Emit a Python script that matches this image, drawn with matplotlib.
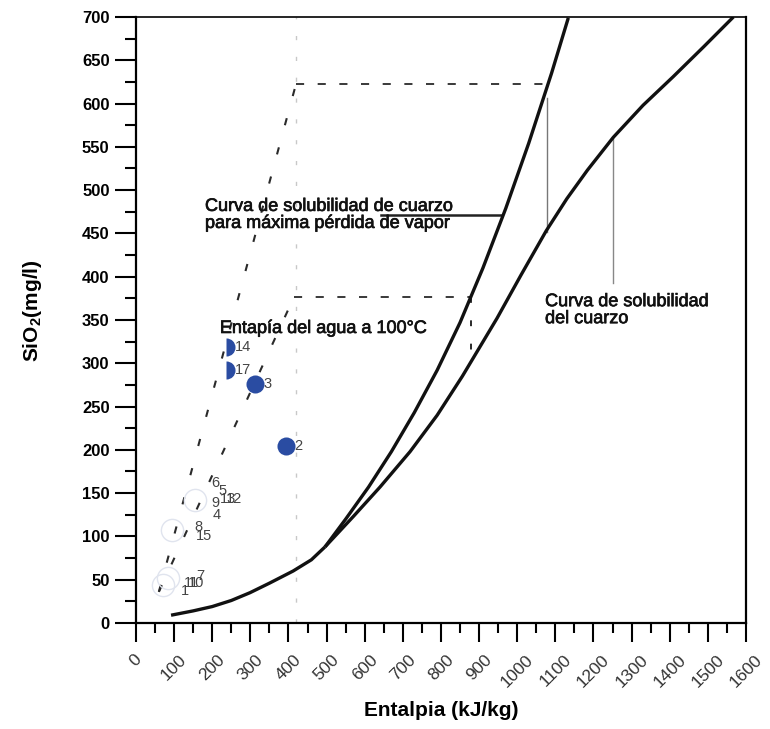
import matplotlib

matplotlib.use("Agg")
import matplotlib.patheffects as pe
import matplotlib.pyplot as plt
from matplotlib.ticker import MultipleLocator

plt.rcParams["font.family"] = ["Liberation Sans", "DejaVu Sans"]
plt.rcParams["mathtext.fontset"] = "custom"
plt.rcParams["mathtext.rm"] = "Liberation Sans:bold"
plt.rcParams["mathtext.bf"] = "Liberation Sans:bold"

# Solubility curves (enthalpy kJ/kg, SiO2 mg/l)
COMMON_H = [92, 150, 200, 250, 299, 350, 412, 460, 496]
COMMON_S = [9, 14, 19, 26, 35, 46, 60, 73, 88]
VAPOR_H = [496, 550, 610, 670, 730, 790, 850, 910, 970, 1030, 1090, 1134]
VAPOR_S = [88, 120, 157, 198, 243, 292, 347, 410, 479, 554, 635, 699]
QUARTZ_H = [496, 570, 640, 719, 790, 856, 947, 1010, 1076, 1130, 1184, 1252,
            1330, 1409, 1490, 1567]
QUARTZ_S = [88, 123, 157, 198, 240, 285, 352, 402, 453, 490, 523, 561,
            598, 631, 666, 700]

# Samples drawn in blue
BLUE_IDS = ["14", "17", "3", "2"]
BLUE_H = [237, 237, 312, 394]
BLUE_S = [319, 292, 276, 204]
BLUE_HALF = [True, True, False, False]

# Faint (almost invisible) sample circles
FAINT_H = [155, 94, 71, 84]
FAINT_S = [142, 107, 44, 52]

# Labels of faint samples (text position)
FAINT_IDS = ["6", "5", "13", "12", "9", "4", "8", "15", "7", "11", "10", "1"]
FAINT_LH = [197, 216, 221, 236, 197, 202, 152, 157, 157, 126, 136, 118]
FAINT_LS = [162, 152, 143, 143, 139, 125, 111, 100, 54, 46, 46, 37]

# Mixing / steam-loss construction lines
H_100C = 419
LINE_A_H = [60, 420, 1072]
LINE_A_S = [36, 623, 623]
LINE_B_H = [60, 415, 879]
LINE_B_S = [36, 377, 377]
DROP_B_S = [377, 315]
LINK1_H = 1079
LINK1_S = [452, 606]
LINK2_H = 1252
LINK2_S = [561, 393]
POINTER_H = [643, 958]
POINTER_S = 471

fig = plt.figure(figsize=(7.7, 7.29), dpi=100)
ax = fig.add_axes([0.1766, 0.1454, 0.7922, 0.8313])

ax.axvline(H_100C, color="#c8c8c8", lw=1, dashes=(3, 12))
ax.plot(LINE_A_H[:2], LINE_A_S[:2], color="#2a2a2a", lw=1.5, dashes=(3.5, 11))
ax.plot(LINE_A_H[1:], LINE_A_S[1:], color="#2a2a2a", lw=1.3, dashes=(4.5, 7.5))
ax.plot(LINE_B_H[:2], LINE_B_S[:2], color="#2a2a2a", lw=1.5, dashes=(3.5, 11))
ax.plot(LINE_B_H[1:], LINE_B_S[1:], color="#2a2a2a", lw=1.3, dashes=(4.5, 7.5))
ax.plot([LINE_B_H[2]] * 2, DROP_B_S, color="#2a2a2a", lw=1.4, dashes=(3, 9))
ax.plot([LINK1_H] * 2, LINK1_S, color="#777777", lw=1)
ax.plot([LINK2_H] * 2, LINK2_S, color="#888888", lw=1)
ax.plot(POINTER_H, [POINTER_S] * 2, color="#222222", lw=1.8)

ax.plot(COMMON_H, COMMON_S, color="#111111", lw=2.4, solid_capstyle="butt")
ax.plot(VAPOR_H, VAPOR_S, color="#111111", lw=2.4, solid_capstyle="butt")
ax.plot(QUARTZ_H, QUARTZ_S, color="#111111", lw=2.4, solid_capstyle="butt")

ax.plot(FAINT_H, FAINT_S, "o", ms=16, mfc="none", mec="#e0e4ee", mew=1.0)

for sid, h, s, half in zip(BLUE_IDS, BLUE_H, BLUE_S, BLUE_HALF):
    ax.plot(h, s, "o", ms=13, color="#2a4ca2", mew=0,
            fillstyle="right" if half else "full", markerfacecoloralt="none")
    ax.annotate(sid, (h, s), xytext=(6, 0), textcoords="offset points",
                va="center", fontsize=10.5, color="#444444")

for sid, h, s in zip(FAINT_IDS, FAINT_LH, FAINT_LS):
    ax.text(h, s, sid, va="center", fontsize=10.5, color="#444444")

bold_ish = [pe.withStroke(linewidth=0.5, foreground="#111111")]
ax.text(181, 491, "Curva de solubilidad de cuarzo\npara máxima pérdida de vapor",
        fontsize=13, va="top", linespacing=1.0, color="#111111",
        path_effects=bold_ish)
ax.text(220, 335, "Entapía del agua a 100°C", fontsize=13, color="#111111",
        path_effects=bold_ish)
ax.text(1073, 381, "Curva de solubilidad\ndel cuarzo", fontsize=13,
        va="top", linespacing=1.0, color="#111111", path_effects=bold_ish)

ax.set_xlim(0, 1600)
ax.set_ylim(0, 700)
ax.xaxis.set_major_locator(MultipleLocator(100))
ax.xaxis.set_minor_locator(MultipleLocator(50))
ax.yaxis.set_major_locator(MultipleLocator(50))
ax.yaxis.set_minor_locator(MultipleLocator(25))
ax.tick_params(axis="x", which="major", length=14, width=1.5, direction="out",
               labelsize=12.5, labelrotation=45, pad=7, labelcolor="#333333")
ax.tick_params(axis="x", which="minor", length=7, width=1.5, direction="out")
ax.tick_params(axis="y", which="major", length=15, width=1.5, direction="out",
               labelsize=12, pad=4)
ax.tick_params(axis="y", which="minor", length=8, width=1.5, direction="out")
for lab in ax.get_yticklabels():
    lab.set_fontweight("bold")
for side in ("left", "bottom", "right"):
    ax.spines[side].set_linewidth(1.6)
ax.spines["top"].set_linewidth(1.2)

ax.set_xlabel("Entalpia (kJ/kg)", fontsize=15, fontweight="bold", labelpad=8)
ax.set_ylabel(r"SiO$_2$(mg/l)", fontsize=15, fontweight="bold")
ax.yaxis.set_label_coords(-0.15, 0.515)

fig.savefig("out.png", dpi=100)
